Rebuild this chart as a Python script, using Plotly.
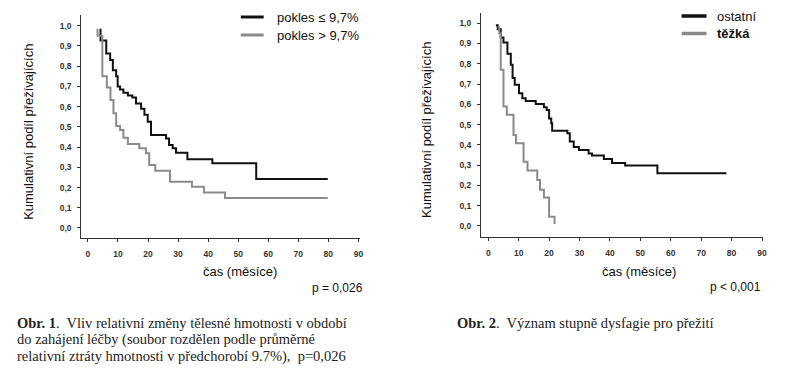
import plotly.graph_objects as go

W, H = 811, 385

# ---- data (Kaplan-Meier steps: time, survival) ----
left_low_t = [4.2, 4.2, 6.1, 7.4, 8.3, 9.4, 9.9, 10.7, 11.8, 13.3, 14.8, 16.0, 17.7, 18.8, 19.9, 21.0, 26.0, 27.0, 28.2, 29.3, 33.1, 41.4, 56.0, 79.8]
left_low_s = [0.985, 0.927, 0.863, 0.83, 0.78, 0.75, 0.70, 0.685, 0.669, 0.655, 0.645, 0.616, 0.59, 0.56, 0.525, 0.46, 0.443, 0.41, 0.394, 0.372, 0.34, 0.32, 0.242, 0.242]

left_high_t = [3.2, 3.2, 4.8, 6.3, 7.5, 8.5, 9.4, 10.7, 11.8, 13.3, 17.1, 19.3, 20.4, 22.4, 27.3, 34.6, 38.6, 45.6, 79.8]
left_high_s = [0.985, 0.95, 0.75, 0.695, 0.633, 0.567, 0.504, 0.484, 0.446, 0.415, 0.394, 0.369, 0.311, 0.283, 0.229, 0.204, 0.175, 0.148, 0.148]

right_other_t = [2.5, 3.1, 4.1, 5.0, 6.3, 7.4, 8.0, 8.7, 10.1, 11.2, 12.3, 15.6, 18.3, 19.2, 20.0, 20.7, 21.0, 26.0, 26.8, 28.1, 29.8, 33.0, 34.1, 38.0, 40.7, 45.0, 55.6, 78.3]
right_other_s = [0.99, 0.97, 0.93, 0.905, 0.85, 0.795, 0.73, 0.696, 0.655, 0.63, 0.617, 0.602, 0.585, 0.572, 0.53, 0.507, 0.47, 0.457, 0.416, 0.39, 0.375, 0.358, 0.347, 0.33, 0.31, 0.298, 0.26, 0.26]

right_severe_t = [3.1, 3.6, 4.1, 5.0, 6.1, 8.3, 9.1, 11.6, 12.9, 16.1, 17.0, 18.3, 20.0, 21.8]
right_severe_s = [0.98, 0.95, 0.77, 0.589, 0.548, 0.449, 0.408, 0.317, 0.273, 0.227, 0.178, 0.14, 0.046, 0.01]

y_tick_vals = [0.0, 0.1, 0.2, 0.3, 0.4, 0.5, 0.6, 0.7, 0.8, 0.9, 1.0]
y_tick_text = ["0,0", "0,1", "0,2", "0,3", "0,4", "0,5", "0,6", "0,7", "0,8", "0,9", "1,0"]
x_tick_vals = [0, 10, 20, 30, 40, 50, 60, 70, 80, 90]

legend_left = ["pokles ≤ 9,7%", "pokles > 9,7%"]
legend_right = ["ostatní", "těžká"]

BLACK = "#111111"
GRAY = "#8a8a8a"

fig = go.Figure()
fig.add_trace(go.Scatter(x=left_low_t, y=left_low_s, mode="lines", line=dict(color=BLACK, width=2, shape="hv"), xaxis="x", yaxis="y", showlegend=False))
fig.add_trace(go.Scatter(x=left_high_t, y=left_high_s, mode="lines", line=dict(color=GRAY, width=2, shape="hv"), xaxis="x", yaxis="y", showlegend=False))
fig.add_trace(go.Scatter(x=right_other_t, y=right_other_s, mode="lines", line=dict(color=BLACK, width=2, shape="hv"), xaxis="x2", yaxis="y2", showlegend=False))
fig.add_trace(go.Scatter(x=right_severe_t, y=right_severe_s, mode="lines", line=dict(color=GRAY, width=2, shape="hv"), xaxis="x2", yaxis="y2", showlegend=False))

tickfont = dict(family="Liberation Sans, Arial", size=8.5, color="#333333", weight="bold")

def xax(domain, rng, anchor):
    return dict(domain=domain, range=rng, anchor=anchor, tickvals=x_tick_vals, ticks="outside", ticklen=3,
                tickcolor="#333", showline=True, linecolor="#333", linewidth=1, showgrid=False, zeroline=False,
                tickfont=tickfont, ticklabelstandoff=5)

def yax(domain, rng, anchor):
    return dict(domain=domain, range=rng, anchor=anchor, tickvals=y_tick_vals, ticktext=y_tick_text, ticks="outside",
                ticklen=3, tickcolor="#333", showline=True, linecolor="#333", linewidth=1, showgrid=False,
                zeroline=False, tickfont=tickfont, ticklabelstandoff=4)

fig.update_layout(
    width=W, height=H, margin=dict(l=0, r=0, t=0, b=0),
    paper_bgcolor="white", plot_bgcolor="white",
    xaxis=xax([81.7 / W, 362 / W], [-2.2, 90.6], "y"),
    yaxis=yax([1 - 237.7 / H, 1 - 15 / H], [-0.048, 1.053], "x"),
    xaxis2=xax([483.3 / W, 766.7 / W], [-2.42, 90.3], "y2"),
    yaxis2=yax([1 - 236.7 / H, 1 - 13.3 / H], [-0.053, 1.049], "x2"),
)

def px(x, y):
    return x / W, 1 - y / H

annos = []
sans = "Liberation Sans, Arial"
serif = "Liberation Serif, Times New Roman"

def add_text(x, y, text, size, xanchor="left", angle=0, family=sans, bold=False, color="#111", pad=1):
    xx, yy = px(x, y)
    annos.append(dict(x=xx, y=yy, xref="paper", yref="paper", text=text, showarrow=False,
                      xanchor=xanchor, yanchor="middle", textangle=angle, borderpad=pad,
                      font=dict(family=family, size=size, color=color, weight="bold" if bold else "normal")))

# axis titles
add_text(28, 132, "Kumulativní podíl přežívajících", 13, xanchor="center", angle=-90)
add_text(428, 130, "Kumulativní podíl přežívajících", 13, xanchor="center", angle=-90)
add_text(241, 271, "čas (měsíce)", 13, xanchor="center")
add_text(642, 271, "čas (měsíce)", 13, xanchor="center")
add_text(367, 288, "p = 0,026", 12, xanchor="right")
add_text(767, 287, "p < 0,001", 12, xanchor="right")

# legends
shapes = []
for i, (lab, col) in enumerate(zip(legend_left, [BLACK, GRAY])):
    yy = 17 + 18 * i
    x0, y0 = px(242, yy)
    x1, _ = px(265, yy)
    shapes.append(dict(type="line", xref="paper", yref="paper", x0=x0, x1=x1, y0=y0, y1=y0, line=dict(color=col, width=3)))
    add_text(276, yy, lab, 13)
for i, (lab, col) in enumerate(zip(legend_right, [BLACK, GRAY])):
    yy = 16 + 17.5 * i
    x0, y0 = px(685, yy)
    x1, _ = px(710, yy)
    shapes.append(dict(type="line", xref="paper", yref="paper", x0=x0, x1=x1, y0=y0, y1=y0, line=dict(color=col, width=3.5)))
    add_text(719, yy, lab, 13, bold=(i == 1))

# captions
cap1 = ["<b>Obr. 1</b>.  Vliv relativní změny tělesné hmotnosti v období",
        "do zahájení léčby (soubor rozdělen podle průměrné",
        "relativní ztráty hmotnosti v předchorobí 9.7%),  p=0,026"]
for i, line in enumerate(cap1):
    add_text(16, 323 + 16.5 * i, line, 14.5, family=serif, color="#222", pad=0)
add_text(458, 323, "<b>Obr. 2</b>.  Význam stupně dysfagie pro přežití", 14.5, family=serif, color="#222", pad=0)

fig.update_layout(annotations=annos, shapes=shapes)
fig.write_html("out.html", config={"displayModeBar": False},
               post_script="document.body.style.margin='0px';document.body.style.padding='0px';document.body.style.overflow='hidden';")
